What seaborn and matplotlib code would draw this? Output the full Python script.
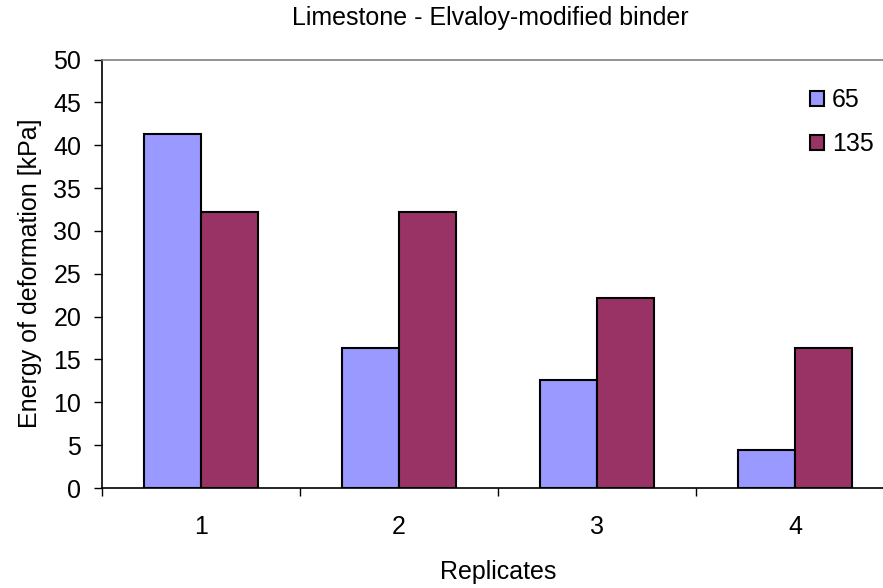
import matplotlib
matplotlib.use("Agg")
import matplotlib.pyplot as plt
import seaborn as sns
import pandas as pd
from matplotlib.patches import Patch

replicates = ["1", "2", "3", "4"]
series_names = ["65", "135"]
values_65 = [41.3, 16.3, 12.6, 4.4]
values_135 = [32.2, 32.2, 22.2, 16.3]
y_ticks = [0, 5, 10, 15, 20, 25, 30, 35, 40, 45, 50]
colors = ["#9999FF", "#993366"]

df = pd.DataFrame({
    "Replicates": replicates * 2,
    "Series": [series_names[0]] * 4 + [series_names[1]] * 4,
    "Energy": values_65 + values_135,
})

sns.set_theme(style="white")
plt.rcParams["font.family"] = ["Liberation Sans", "DejaVu Sans"]
plt.rcParams["text.color"] = "black"
plt.rcParams["axes.labelcolor"] = "black"
plt.rcParams["xtick.color"] = "black"
plt.rcParams["ytick.color"] = "black"

FS = 18

fig = plt.figure(figsize=(8.83, 5.88), dpi=100)
ax = fig.add_axes([102 / 883, 100 / 588, 792 / 883, 428.5 / 588])

sns.barplot(data=df, x="Replicates", y="Energy", hue="Series",
            palette=colors, width=0.576, edgecolor="black", linewidth=1.5,
            saturation=1, ax=ax, legend=False)

ax.set_ylim(0, 50)
ax.set_xlim(-0.5, 3.5)
ax.set_yticks(y_ticks)
ax.set_yticklabels([str(t) for t in y_ticks], fontsize=FS)
ax.tick_params(axis="y", which="major", direction="out", length=6, width=1,
               color="black", left=True, pad=9)
ax.set_xticks(range(4))
ax.set_xticklabels(replicates, fontsize=FS)
ax.set_xticks([-0.5, 0.5, 1.5, 2.5, 3.5], minor=True)
ax.tick_params(axis="x", which="major", length=0, pad=19.5)
ax.tick_params(axis="x", which="minor", direction="out", length=6, width=1,
               color="black", bottom=True)

for s in ["left", "bottom"]:
    ax.spines[s].set_color("black")
    ax.spines[s].set_linewidth(1.2)
ax.spines["right"].set_visible(False)
ax.spines["top"].set_color("#808080")
ax.spines["top"].set_linewidth(1.2)

ax.set_xlabel("Replicates", fontsize=FS, labelpad=15)
ax.set_ylabel("Energy of deformation [kPa]", fontsize=FS, labelpad=8)
fig.text(490 / 883, 1 - 18 / 588, "Limestone - Elvaloy-modified binder",
         fontsize=FS, ha="center", va="center")

handles = [Patch(facecolor=c, edgecolor="black", linewidth=1.5) for c in colors]
fig.legend(handles, series_names, loc="upper left",
           bbox_to_anchor=(810 / 883, 1 - 88 / 588), frameon=False,
           fontsize=FS, handlelength=0.56, handleheight=0.56,
           handletextpad=0.32, labelspacing=0.8, borderpad=0, borderaxespad=0)

fig.savefig("out.png", dpi=100)
